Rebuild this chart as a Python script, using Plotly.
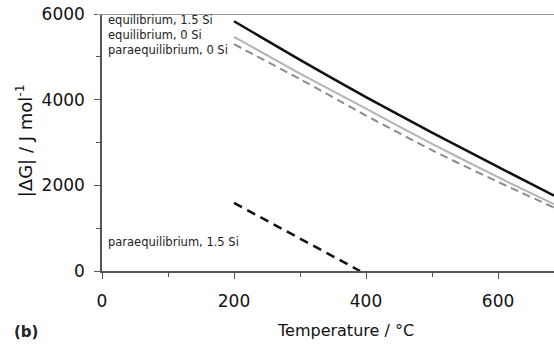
import plotly.graph_objects as go

temp_eq = [200, 300, 400, 500, 600, 685]
eq_15si = [5830, 4930, 4060, 3230, 2430, 1760]
eq_0si = [5465, 4610, 3790, 2970, 2190, 1560]
para_0si = [5295, 4480, 3630, 2820, 2080, 1480]
temp_para15 = [200, 391]
para_15si = [1590, 0]

labels = ["equilibrium, 1.5 Si", "equilibrium, 0 Si", "paraequilibrium, 0 Si", "paraequilibrium, 1.5 Si"]

fig = go.Figure()
fig.add_trace(go.Scatter(x=temp_eq, y=para_0si, mode="lines", line=dict(color="#8c8c8c", width=2, dash="8px,5px", shape="spline", smoothing=0.6)))
fig.add_trace(go.Scatter(x=temp_eq, y=eq_0si, mode="lines", line=dict(color="#b4b4b4", width=2, shape="spline", smoothing=0.6)))
fig.add_trace(go.Scatter(x=temp_eq, y=eq_15si, mode="lines", line=dict(color="#111111", width=2.5, shape="spline", smoothing=0.6)))
fig.add_trace(go.Scatter(x=temp_para15, y=para_15si, mode="lines", line=dict(color="#111111", width=2.5, dash="9px,6px")))

font = "DejaVu Sans"
ann = []
for txt, yp in zip(labels, [0.977, 0.918, 0.86, 0.113]):
    ann.append(dict(text=txt, x=0.009, y=yp, xref="paper", yref="paper", xanchor="left", yanchor="middle",
                    showarrow=False, font=dict(size=11.5, color="#222222", family=font)))
ann.append(dict(text="<b>(b)</b>", x=-0.199, y=-0.237, xref="paper", yref="paper", xanchor="left", yanchor="middle",
                showarrow=False, font=dict(size=15, color="#222222", family=font)))
ann.append(dict(text="Temperature / °C", x=0.538, y=-0.23, xref="paper", yref="paper", xanchor="center", yanchor="middle",
                showarrow=False, font=dict(size=16, color="#111111", family=font)))
ann.append(dict(text="|ΔG| / J mol<sup>-1</sup>", x=-0.172, y=0.506, xref="paper", yref="paper", xanchor="center", yanchor="middle",
                textangle=-90, showarrow=False, font=dict(size=18, color="#111111", family=font)))

fig.update_layout(
    width=554, height=345,
    margin=dict(l=102, r=0, t=14, b=74),
    plot_bgcolor="white", paper_bgcolor="white",
    showlegend=False,
    annotations=ann,
    shapes=[dict(type="line", xref="paper", yref="y", x0=-0.011, x1=1, y0=6000, y1=6000,
                 line=dict(color="#999999", width=2))],
)
fig.update_xaxes(range=[0, 684.8], tickvals=[0, 200, 400, 600], ticks="outside", ticklen=6, tickcolor="#555555",
                 showline=True, linecolor="#555555", linewidth=1.5, showgrid=False, zeroline=False,
                 ticklabelstandoff=8,
                 tickfont=dict(size=17, color="#111111", family=font),
                 minor=dict(tickvals=[100, 300, 500], ticks="outside", ticklen=4, tickcolor="#555555"))
fig.update_yaxes(range=[0, 6000], tickvals=[0, 2000, 4000, 6000], ticks="outside", ticklen=6, tickcolor="#555555",
                 showline=True, linecolor="#555555", linewidth=1.5, showgrid=False, zeroline=False,
                 ticklabelstandoff=6,
                 tickfont=dict(size=17, color="#111111", family=font),
                 minor=dict(tickvals=[1000, 3000, 5000], ticks="outside", ticklen=4, tickcolor="#555555"))

fig.write_html("out.html")
